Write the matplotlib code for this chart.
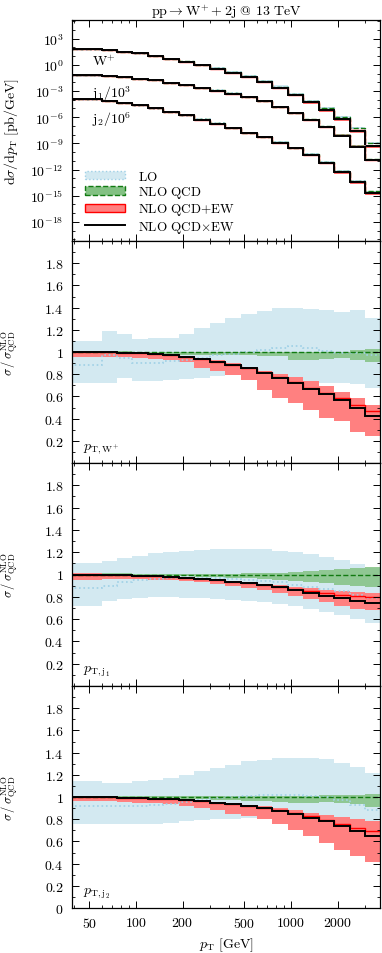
import numpy as np
import matplotlib
matplotlib.use('Agg')
import matplotlib.pyplot as plt
from matplotlib.patches import Patch
from matplotlib.lines import Line2D
from matplotlib.ticker import FixedLocator, FixedFormatter, NullFormatter

plt.rcParams['mathtext.fontset'] = 'cm'
plt.rcParams['font.family'] = ['cmr10', 'DejaVu Serif']
plt.rcParams['font.size'] = 9
plt.rcParams['axes.unicode_minus'] = False

# pT bin edges [GeV]
edges = [38, 60, 75.5, 95, 119.5, 150.5, 189.5, 238.5, 300, 378, 476, 600,
         755, 950, 1195, 1505, 1895, 2385, 3000, 3780]

# NLO QCD spectra, log10(dsigma/dpT [pb/GeV])
w_log = [1.80, 1.68, 1.53, 1.34, 1.04, 0.73, 0.39, 0.02, -0.39, -0.84, -1.29,
         -1.82, -2.50, -3.32, -4.13, -4.99, -5.98, -7.24, -8.93]
j1_log = [1.81, 1.73, 1.62, 1.42, 1.23, 0.97, 0.74, 0.39, 0.08, -0.26, -0.68,
          -1.14, -1.79, -2.48, -3.25, -4.05, -5.00, -6.25, -7.77]
j2_log = [2.05, 1.86, 1.63, 1.36, 1.02, 0.63, 0.21, -0.25, -0.71, -1.21, -1.78,
          -2.24, -2.85, -3.50, -4.23, -5.15, -6.20, -7.30, -8.52]

# ratios to NLO QCD, W+ pT
w_lo_c = [0.88, 0.97, 0.95, 0.90, 0.90, 0.915, 0.93, 0.95, 0.97, 0.98, 1.0, 1.02, 1.04, 1.05, 1.035, 1.01, 0.99, 0.995, 0.975]
w_lo_up = [1.10, 1.19, 1.16, 1.12, 1.13, 1.13, 1.16, 1.22, 1.26, 1.31, 1.34, 1.37, 1.40, 1.40, 1.39, 1.38, 1.36, 1.375, 1.31]
w_lo_dn = [0.72, 0.72, 0.77, 0.74, 0.74, 0.75, 0.76, 0.77, 0.78, 0.80, 0.80, 0.78, 0.75, 0.735, 0.735, 0.72, 0.72, 0.71, 0.675]
w_qcd_up = [1.01, 1.01, 1.005, 1.0, 1.0, 1.0, 1.0, 1.0, 1.0, 1.0, 1.0, 1.0, 1.0, 1.0, 1.0, 1.0, 1.0, 1.015, 1.03]
w_qcd_dn = [0.99, 0.99, 0.985, 0.985, 0.98, 0.98, 0.975, 0.975, 0.97, 0.97, 0.97, 0.965, 0.96, 0.93, 0.93, 0.935, 0.95, 0.93, 0.91]
w_mult = [1.0, 1.0, 0.995, 0.99, 0.98, 0.97, 0.955, 0.935, 0.91, 0.88, 0.855, 0.815, 0.77, 0.725, 0.67, 0.625, 0.57, 0.50, 0.42]
w_add = [1.0, 1.0, 0.995, 0.99, 0.98, 0.97, 0.955, 0.935, 0.91, 0.885, 0.86, 0.82, 0.775, 0.73, 0.68, 0.635, 0.585, 0.52, 0.465]
w_add_up = [1.01, 1.005, 1.0, 0.995, 0.99, 0.98, 0.965, 0.95, 0.93, 0.90, 0.865, 0.825, 0.80, 0.775, 0.735, 0.69, 0.64, 0.585, 0.525]
w_add_dn = [0.955, 0.955, 0.955, 0.95, 0.94, 0.93, 0.91, 0.855, 0.825, 0.795, 0.745, 0.655, 0.59, 0.54, 0.475, 0.405, 0.38, 0.275, 0.24]

# ratios, leading jet pT
j1_lo_c = [0.88, 0.90, 0.93, 0.95, 0.96, 0.965, 0.97, 0.97, 0.965, 0.96, 0.95, 0.94, 0.93, 0.91, 0.89, 0.87, 0.85, 0.82, 0.79]
j1_lo_up = [1.10, 1.12, 1.15, 1.17, 1.19, 1.20, 1.21, 1.22, 1.225, 1.23, 1.23, 1.225, 1.215, 1.20, 1.18, 1.155, 1.13, 1.09, 1.06]
j1_lo_dn = [0.72, 0.76, 0.78, 0.79, 0.795, 0.795, 0.79, 0.785, 0.78, 0.775, 0.765, 0.75, 0.735, 0.715, 0.69, 0.665, 0.64, 0.60, 0.565]
j1_qcd_up = [1.01, 1.01, 1.01, 1.005, 1.005, 1.005, 1.005, 1.005, 1.005, 1.005, 1.01, 1.01, 1.015, 1.02, 1.03, 1.04, 1.05, 1.06, 1.07]
j1_qcd_dn = [0.985, 0.99, 0.99, 0.99, 0.99, 0.985, 0.985, 0.98, 0.975, 0.97, 0.965, 0.96, 0.955, 0.945, 0.935, 0.925, 0.91, 0.90, 0.89]
j1_mult = [1.0, 1.0, 0.995, 0.99, 0.985, 0.978, 0.97, 0.96, 0.948, 0.935, 0.92, 0.905, 0.885, 0.86, 0.835, 0.81, 0.785, 0.76, 0.74]
j1_add = [1.0, 1.0, 0.995, 0.99, 0.985, 0.978, 0.97, 0.96, 0.948, 0.936, 0.922, 0.908, 0.89, 0.87, 0.85, 0.83, 0.815, 0.805, 0.80]
j1_add_up = [1.01, 1.005, 1.0, 0.995, 0.99, 0.985, 0.978, 0.968, 0.957, 0.945, 0.932, 0.918, 0.905, 0.89, 0.875, 0.86, 0.85, 0.84, 0.83]
j1_add_dn = [0.955, 0.96, 0.96, 0.96, 0.955, 0.95, 0.94, 0.93, 0.915, 0.90, 0.88, 0.86, 0.835, 0.81, 0.78, 0.75, 0.72, 0.695, 0.68]

# ratios, second jet pT
j2_lo_c = [0.92, 0.915, 0.915, 0.92, 0.93, 0.94, 0.955, 0.97, 0.99, 1.0, 1.01, 1.02, 1.02, 1.02, 1.01, 1.0, 0.97, 0.93, 0.88]
j2_lo_up = [1.14, 1.13, 1.13, 1.14, 1.15, 1.17, 1.20, 1.23, 1.26, 1.29, 1.32, 1.335, 1.35, 1.355, 1.35, 1.34, 1.31, 1.27, 1.22]
j2_lo_dn = [0.76, 0.755, 0.755, 0.755, 0.76, 0.77, 0.78, 0.79, 0.80, 0.805, 0.81, 0.815, 0.815, 0.81, 0.80, 0.795, 0.79, 0.785, 0.78]
j2_qcd_up = [1.005, 1.005, 1.005, 1.005, 1.005, 1.005, 1.005, 1.005, 1.005, 1.005, 1.005, 1.005, 1.01, 1.01, 1.01, 1.015, 1.015, 1.02, 1.025]
j2_qcd_dn = [0.99, 0.99, 0.99, 0.99, 0.985, 0.985, 0.98, 0.98, 0.975, 0.97, 0.965, 0.96, 0.955, 0.95, 0.95, 0.955, 0.95, 0.935, 0.91]
j2_mult = [1.0, 1.0, 0.995, 0.99, 0.985, 0.98, 0.97, 0.96, 0.95, 0.935, 0.92, 0.90, 0.875, 0.85, 0.815, 0.78, 0.735, 0.69, 0.645]
j2_add = [1.0, 1.0, 0.995, 0.99, 0.985, 0.98, 0.97, 0.96, 0.95, 0.936, 0.922, 0.903, 0.88, 0.856, 0.825, 0.795, 0.755, 0.72, 0.69]
j2_add_up = [1.0, 1.0, 0.995, 0.99, 0.985, 0.98, 0.975, 0.965, 0.955, 0.945, 0.93, 0.915, 0.90, 0.88, 0.86, 0.84, 0.82, 0.80, 0.78]
j2_add_dn = [0.965, 0.96, 0.955, 0.95, 0.945, 0.935, 0.92, 0.90, 0.88, 0.85, 0.83, 0.80, 0.76, 0.70, 0.65, 0.59, 0.52, 0.47, 0.41]

scales = [1.0, 1e-3, 1e-6]
curve_names = [r'$\mathrm{W}^{+}$', r'$\mathrm{j}_1/10^3$', r'$\mathrm{j}_2/10^6$']
panel_names = [r'$p_{\mathrm{T,W^{+}}}$', r'$p_{\mathrm{T,j_1}}$', r'$p_{\mathrm{T,j_2}}$']

lo_fill = '#d3e9f1'
lo_line = '#9fd0e6'
qcd_fill = '#83c183'
qcd_line = '#117a11'
ew_fill = '#ff8080'
ew_line = '#ff0000'

ratios = [
    (w_lo_c, w_lo_up, w_lo_dn, w_qcd_up, w_qcd_dn, w_mult, w_add, w_add_up, w_add_dn),
    (j1_lo_c, j1_lo_up, j1_lo_dn, j1_qcd_up, j1_qcd_dn, j1_mult, j1_add, j1_add_up, j1_add_dn),
    (j2_lo_c, j2_lo_up, j2_lo_dn, j2_qcd_up, j2_qcd_dn, j2_mult, j2_add, j2_add_up, j2_add_dn),
]


def draw_set(ax, nlo, r):
    lo_c, lo_up, lo_dn, qcd_up, qcd_dn, mult, add, add_up, add_dn = [np.array(a) for a in r]
    ax.stairs(nlo * lo_up, edges, baseline=nlo * lo_dn, fill=True, color=lo_fill, lw=0)
    ax.stairs(nlo * qcd_up, edges, baseline=nlo * qcd_dn, fill=True, color=qcd_fill, alpha=0.85, lw=0)
    ax.stairs(nlo * add_up, edges, baseline=nlo * add_dn, fill=True, color=ew_fill, lw=0)
    ax.stairs(nlo * lo_c, edges, color=lo_line, lw=1.2, ls=':')
    ax.stairs(nlo * np.ones(len(lo_c)), edges, color=qcd_line, lw=1.0, ls='--')
    ax.stairs(nlo * add, edges, color=ew_line, lw=1.0)
    ax.stairs(nlo * mult, edges, color='black', lw=1.4)


fig = plt.figure(figsize=(3.82, 9.54), dpi=100)


def frac(top_px, bot_px):
    return [72 / 382, 1 - bot_px / 954, 308 / 382, (bot_px - top_px) / 954]


ax0 = fig.add_axes(frac(21, 242))
axr = [fig.add_axes(frac(242, 464)), fig.add_axes(frac(464, 687)), fig.add_axes(frac(687, 909))]

# top panel: spectra
for logv, sc, r in zip([w_log, j1_log, j2_log], scales, ratios):
    draw_set(ax0, 10 ** np.array(logv) * sc, r)

ax0.set_yscale('log')
ax0.set_ylim(10 ** -20.2, 10 ** 5.15)
major_y = [-18, -15, -12, -9, -6, -3, 0, 3]
ax0.yaxis.set_major_locator(FixedLocator([10.0 ** e for e in major_y]))
ax0.yaxis.set_major_formatter(FixedFormatter([r'$10^{%d}$' % e for e in major_y]))
ax0.yaxis.set_minor_locator(FixedLocator([10.0 ** e for e in range(-20, 6) if e not in major_y]))
ax0.yaxis.set_minor_formatter(NullFormatter())
ax0.set_ylabel(r'$\mathrm{d}\sigma/\mathrm{d}p_{\mathrm{T}}\ [\mathrm{pb/GeV}]$', fontsize=10)
ax0.yaxis.set_label_coords(-0.165, 0.5)

for name, yy in zip(curve_names, [0.816, 0.67, 0.553]):
    ax0.text(0.064, yy, name, transform=ax0.transAxes, fontsize=10, va='center')

handles = [
    Patch(facecolor=lo_fill, edgecolor=lo_line, ls=':', lw=1.0),
    Patch(facecolor=qcd_fill, edgecolor=qcd_line, ls='--', lw=1.0),
    Patch(facecolor=ew_fill, edgecolor=ew_line, lw=1.0),
    Line2D([], [], color='black', lw=1.4),
]
labels = [r'$\mathrm{LO}$', r'$\mathrm{NLO\ QCD}$', r'$\mathrm{NLO\ QCD{+}EW}$',
          r'$\mathrm{NLO\ QCD{\times}EW}$']
ax0.legend(handles, labels, loc='lower left', bbox_to_anchor=(0.042, 0.028),
           frameon=False, fontsize=9.5, handlelength=3.0, handleheight=0.6,
           handletextpad=1.0, labelspacing=0.1, borderpad=0, borderaxespad=0)

fig.text(226 / 382, 1 - 12 / 954, r'$\mathrm{pp}\rightarrow\mathrm{W}^{+}+2\mathrm{j}$ @ $13\ \mathrm{TeV}$',
         ha='center', va='center', fontsize=10)

# ratio panels
for i, (ax, r) in enumerate(zip(axr, ratios)):
    draw_set(ax, 1.0, r)
    ax.set_ylim(0, 2)
    yt = [0.2, 0.4, 0.6, 0.8, 1.0, 1.2, 1.4, 1.6, 1.8]
    ylab = ['0.2', '0.4', '0.6', '0.8', '1', '1.2', '1.4', '1.6', '1.8']
    if i == 2:
        yt = [0.0] + yt
        ylab = ['0'] + ylab
    ax.yaxis.set_major_locator(FixedLocator(yt))
    ax.yaxis.set_major_formatter(FixedFormatter(['$%s$' % s for s in ylab]))
    ax.yaxis.set_minor_locator(FixedLocator([0.1, 0.3, 0.5, 0.7, 0.9, 1.1, 1.3, 1.5, 1.7, 1.9]))
    ax.set_ylabel(r'$\sigma\,/\,\sigma^{\mathrm{NLO}}_{\mathrm{QCD}}$', fontsize=9)
    ax.yaxis.set_label_coords(-0.17, 0.5)
    ax.text(0.035, 0.068, panel_names[i], transform=ax.transAxes, fontsize=10, va='center')

major_x = [50, 100, 200, 500, 1000, 2000]
minor_x = [40, 60, 70, 80, 90, 300, 400, 600, 700, 800, 900, 3000]
for ax in [ax0] + axr:
    ax.set_xscale('log')
    ax.set_xlim(38.7, 3750)
    ax.xaxis.set_major_locator(FixedLocator(major_x))
    ax.xaxis.set_minor_locator(FixedLocator(minor_x))
    ax.xaxis.set_minor_formatter(NullFormatter())
    ax.xaxis.set_major_formatter(NullFormatter())
    ax.tick_params(which='both', direction='in', top=True, right=True, labelsize=10, pad=6)
    ax.tick_params(which='major', length=5, width=0.7)
    ax.tick_params(which='minor', length=2.5, width=0.6)
    for s in ax.spines.values():
        s.set_linewidth(0.9)

axr[2].xaxis.set_major_formatter(FixedFormatter(['$%d$' % v for v in major_x]))
axr[2].set_xlabel(r'$p_{\mathrm{T}}\ [\mathrm{GeV}]$', fontsize=10, labelpad=4)

fig.savefig('out.png', dpi=100)
